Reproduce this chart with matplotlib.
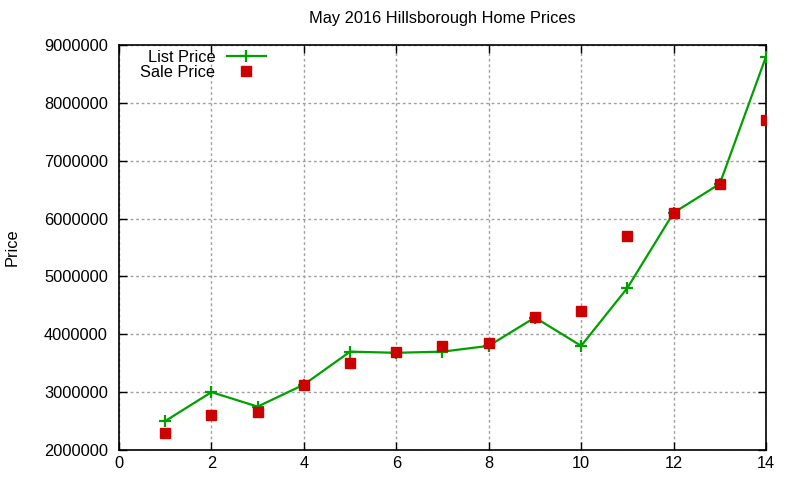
import matplotlib
matplotlib.use("Agg")
import matplotlib.pyplot as plt

x = [1, 2, 3, 4, 5, 6, 7, 8, 9, 10, 11, 12, 13, 14]
list_price = [2500000, 3000000, 2750000, 3130000, 3700000, 3680000, 3700000,
              3800000, 4290000, 3800000, 4800000, 6100000, 6600000, 8800000]
sale_price = [2300000, 2600000, 2650000, 3130000, 3500000, 3700000, 3800000,
              3850000, 4300000, 4400000, 5700000, 6100000, 6600000, 7700000]
xticks = [0, 2, 4, 6, 8, 10, 12, 14]
yticks = [2000000, 3000000, 4000000, 5000000, 6000000, 7000000, 8000000, 9000000]

plt.rcParams['font.family'] = ['Liberation Sans', 'DejaVu Sans']
fs = 11.8

fig = plt.figure(figsize=(8, 4.8), dpi=100)
ax = fig.add_axes([119/800, 30/480, (766-119)/800, (450-45)/480])

ax.plot(x, list_price, color='#00a000', lw=1.6, marker='+', ms=9, mew=1.6,
        label='List Price', zorder=3)
ax.plot(x, sale_price, color='#cc0000', ls='none', marker='s', ms=6.5,
        label='Sale Price', zorder=4)

ax.set_xlim(0, 14)
ax.set_ylim(2000000, 9000000)
ax.set_xticks(xticks)
ax.set_yticks(yticks)
ax.set_yticklabels([str(v) for v in yticks])
ax.tick_params(direction='in', top=True, right=True, length=6, width=1,
               labelsize=fs)
ax.tick_params(axis='x', pad=4)
ax.tick_params(axis='y', pad=8)
ax.grid(True, color='#a0a0a0', ls=(0, (2, 2)), lw=1)
for s in ax.spines.values():
    s.set_linewidth(1.2)

ax.set_title('May 2016 Hillsborough Home Prices', fontsize=fs, pad=16)
fig.text(12/800, 1 - 247/480, 'Price', rotation=90, va='center', ha='center', fontsize=fs)

leg = ax.legend(loc='upper left', bbox_to_anchor=(0.01, 1.025), frameon=False,
                markerfirst=False, handlelength=2.4, handletextpad=0.7,
                labelspacing=0.0, fontsize=fs)

fig.savefig('out.png', dpi=100)
